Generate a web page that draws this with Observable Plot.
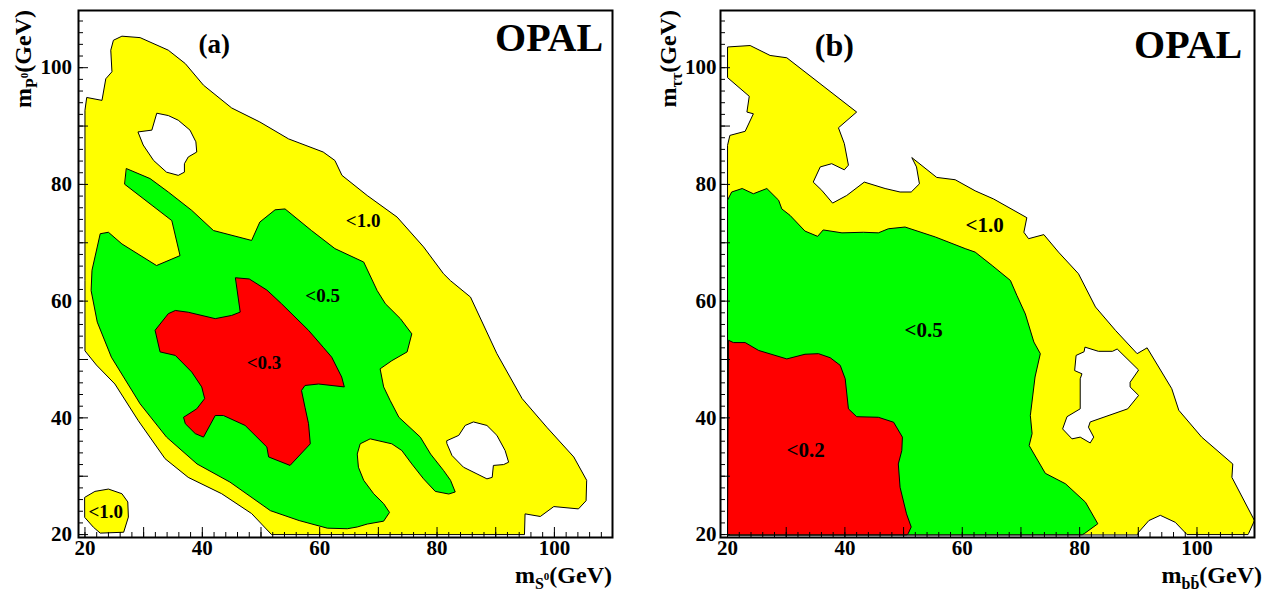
<!DOCTYPE html>
<html><head><meta charset="utf-8">
<script src="https://cdn.jsdelivr.net/npm/d3@7"></script>
<script src="https://cdn.jsdelivr.net/npm/@observablehq/plot@0.6"></script>
<style>
body{margin:0;background:#fff;}
#wrap{position:relative;width:1267px;height:595px;overflow:hidden;background:#fff}
#wrap svg{position:absolute;top:0}
</style></head><body><div id="wrap"></div>
<script>
// ---------- Panel (a): m_S0 vs m_P0 ----------
const aYellow = [[20,51.55],[20,63.5],[20,92.7],[20.3,94.9],[22.9,94.4],[23.55,98.1],[24.6,99.3],[24.4,103.0],[24.85,104.7],[26.3,105.4],[29.4,105.15],[34.2,103.0],[37.1,100.7],[40.2,97.0],[45.0,93.1],[49.8,90.7],[54.7,87.8],[60.6,85.55],[62.6,84.1],[63.8,81.55],[68.1,78.1],[73.2,74.4],[77.7,69.3],[81.1,64.7],[82.3,63.5],[85.7,60.7],[90.2,51.0],[94.5,43.3],[98.7,38.4],[103.3,33.3],[105.5,29.3],[105.4,25.8],[104.1,24.4],[99.9,24.8],[97.6,23.1],[95.0,23.55],[94.9,20],[51.8,20],[48.4,23.6],[43.3,27.0],[37.6,29.8],[33.65,33.0],[29.1,39.5],[25.1,45.8],[22.0,49.0]];
const aIsland = [[20,26.4],[21.7,27.4],[24.0,27.8],[26.3,27.0],[27.3,25.6],[27.4,23.0],[26.6,20.4],[22.6,20.25],[21.45,21.25],[20,22.9]];
const aGreen = [[27.1,82.7],[31.1,81.0],[34.2,78.7],[38.2,75.55],[41.9,72.1],[48.4,70.4],[49.8,73.55],[52.4,75.65],[54.1,75.8],[58.6,72.1],[62.6,69.0],[67.5,66.7],[69.8,61.8],[71.2,59.55],[73.75,57.0],[75.7,54.4],[74.9,51.3],[72.3,49.8],[70.3,48.4],[70.9,45.3],[72.0,43.0],[73.5,40.1],[77.15,36.7],[78.9,33.8],[81.1,31.0],[82.3,29.3],[83.1,27.3],[82.0,26.95],[79.7,27.4],[77.7,29.55],[75.7,32.1],[74.0,34.4],[72.3,35.55],[68.6,36.4],[66.9,35.55],[66.4,33.8],[66.6,31.55],[67.5,29.3],[69.2,27.0],[70.9,25.3],[71.9,23.8],[70.9,22.3],[68.1,21.8],[66.4,21.3],[64.7,21.0],[61.3,21.1],[56.5,22.4],[51.6,24.1],[44.7,29.0],[39.1,32.1],[33.9,36.7],[29.4,42.4],[24.5,50.4],[22.1,56.4],[21.05,61.8],[21.2,65.3],[22.6,71.55],[24.0,71.8],[26.3,69.8],[32.2,66.1],[36.2,67.8],[34.8,73.8],[26.8,80.0]];
const aRed = [[45.7,64.0],[48.0,63.8],[51.0,61.9],[53.5,59.55],[58.1,55.0],[60.6,52.1],[62.05,50.4],[63.75,47.0],[64.2,45.3],[59.8,45.8],[57.5,45.55],[56.9,44.7],[57.5,41.8],[58.1,39.0],[58.4,35.55],[54.95,31.85],[51.3,33.3],[51.0,35.0],[49.0,37.0],[47.3,38.7],[43.6,40.4],[42.2,40.4],[40.2,36.7],[38.8,37.3],[37.1,39.0],[36.8,40.1],[39.05,41.55],[40.4,43.3],[39.9,45.3],[38.2,47.85],[35.4,50.7],[32.8,51.3],[31.95,55.0],[34.2,57.85],[35.4,58.4],[37.6,58.1],[42.2,57.0],[45.0,57.55],[46.4,58.1]];
const aHole1 = [[29.1,89.0],[31.4,89.3],[32.24,92.2],[34.2,91.8],[35.9,91.0],[37.9,89.3],[38.9,87.3],[39.05,85.55],[37.6,84.7],[36.95,83.55],[36.95,82.1],[35.9,81.55],[33.9,82.1],[31.7,84.1],[29.96,86.7]];
const aHole2 = [[81.7,36.1],[83.7,37.0],[84.8,38.7],[86.2,39.3],[88.5,38.7],[90.2,37.0],[91.6,34.4],[92.2,32.4],[91.35,32.0],[89.6,31.85],[89.4,29.8],[88.5,29.55],[86.8,30.4],[84.5,31.55],[82.55,33.55],[81.7,35.55]];
const aLabelX = [67.4, 60.5, 50.5, 23.55];
const aLabelY = [73.7, 60.9, 49.5, 23.8];
const aLabelText = ["<1.0", "<0.5", "<0.3", "<1.0"];

// ---------- Panel (b): m_bb vs m_tautau ----------
const bYellow = [[20,20],[20,86.7],[20.4,88.4],[23.0,89.1],[24.4,92.1],[23.3,92.4],[23.7,95.1],[20.0,98.3],[20.0,103.55],[23.85,103.8],[27.25,102.1],[30.1,101.7],[42.0,92.4],[38.9,89.7],[39.9,87.0],[40.6,83.3],[39.9,82.5],[37.75,83.55],[35.8,83.0],[34.6,80.4],[36.05,79.0],[37.9,76.8],[40.3,78.1],[43.3,80.4],[46.85,79.3],[49.4,78.7],[51.3,78.7],[52.7,80.1],[52.2,83.0],[51.4,84.6],[55.65,81.2],[58.8,80.8],[62.2,78.9],[65.35,77.5],[71.0,74.3],[70.5,71.8],[71.3,70.7],[73.9,71.4],[76.4,68.4],[79.8,64.7],[82.7,59.0],[86.1,55.0],[89.8,51.0],[91.5,52.0],[95.7,45.0],[96.9,41.3],[100.8,36.7],[106.1,32.1],[105.95,29.8],[109.8,22.4],[108.8,20.2],[108.7,20],[98.3,20],[96.3,22.1],[93.75,23.3],[91.8,22.4],[90.05,20.4],[89.9,20]];
const bGreen = [[20,20],[20,77.3],[20.7,78.7],[22.5,79.3],[24.4,78.4],[26.7,79.3],[28.7,77.3],[29.25,75.8],[30.65,74.7],[33.2,72.0],[35.35,71.1],[36.3,72.2],[39.5,71.7],[43.15,71.8],[45.7,71.7],[47.4,72.4],[50.25,72.7],[55.4,71.0],[60.5,69.0],[62.2,68.4],[65.1,66.1],[68.2,63.55],[69.3,61.0],[70.75,57.8],[72.2,53.0],[73.3,51.0],[72.4,47.0],[71.6,40.4],[71.9,37.3],[71.4,35.25],[74.15,30.5],[77.6,28.7],[81.0,25.55],[83.1,21.85],[80.85,20.2],[80.5,20]];
const bRed = [[20,20],[20.15,53.3],[21.0,52.9],[23.0,52.9],[25.3,51.55],[30.1,50.1],[33.2,50.9],[35.5,51.0],[37.5,50.3],[39.2,49.0],[40.05,46.7],[40.6,41.55],[42.0,40.2],[45.7,40.1],[48.3,39.25],[49.8,36.7],[49.7,34.4],[49.1,32.1],[49.4,28.1],[50.5,23.55],[51.3,21.3],[50.8,20.2],[50.6,20]];
const bHole = [[80.97,52.1],[83.2,51.4],[85.6,51.4],[86.4,51.8],[90.05,48.2],[88.6,46.1],[88.6,45.3],[90.05,43.85],[88.2,41.55],[81.8,39.3],[81.5,38.4],[82.4,36.7],[81.8,35.7],[80.1,36.7],[78.7,36.4],[77.1,38.1],[77.85,40.2],[80.1,41.55],[80.1,46.7],[80.4,47.55],[79.15,48.1],[79.4,50.7],[80.7,51.3]];
const bLabelX = [63.8, 53.4, 33.3];
const bLabelY = [73.0, 55.05, 34.4];
const bLabelText = ["<1.0", "<0.5", "<0.2"];

// ---------- Axes ----------
const tickLabels = [20, 40, 60, 80, 100];
const tickLong = [20, 30, 40, 50, 60, 70, 80, 90, 100];
const tickShort = d3.range(20, 109, 2);

const FF = "'Liberation Serif','Times New Roman',serif";
const YEL = "#ffff00", GRN = "#00ff00", RED = "#ff0000";

function poly(points, fill) {
  return Plot.line(points, {x: d => d[0], y: d => d[1], fill, stroke: "black", strokeWidth: 1, curve: "linear-closed"});
}

function makePanel(cfg) {
  const W = cfg.width, H = 595, mt = 10, mb = 58;
  const iw = W - cfg.ml - cfg.mr, ih = H - mt - mb;
  const labels = cfg.lx.map((x, i) => ({x, y: cfg.ly[i], t: cfg.lt[i]}));
  const svg = Plot.plot({
    width: W, height: H, marginLeft: cfg.ml, marginRight: cfg.mr, marginTop: mt, marginBottom: mb,
    x: {domain: cfg.xDomain, axis: null},
    y: {domain: [19.5, 109.8], axis: null},
    style: {fontFamily: FF, background: "transparent", overflow: "visible", color: "black"},
    marks: [
      ...cfg.polys.map(([p, f]) => poly(p, f)),
      Plot.tickX(tickShort, {x: d => d, insetTop: ih - 5, stroke: "black"}),
      Plot.tickX(tickLong, {x: d => d, insetTop: ih - 10, stroke: "black"}),
      Plot.tickY(tickShort, {y: d => d, insetRight: iw - 5, stroke: "black"}),
      Plot.tickY(tickLong, {y: d => d, insetRight: iw - 10, stroke: "black"}),
      Plot.frame({stroke: "black", strokeWidth: 2}),
      Plot.text(tickLabels, {x: d => d, text: d => String(d), frameAnchor: "bottom", dy: 17, fontSize: 21, fontWeight: "bold", fill: "black"}),
      Plot.text(tickLabels, {y: d => d, text: d => String(d), frameAnchor: "left", dx: -cfg.ypad, textAnchor: "end", fontSize: 21, fontWeight: "bold", fill: "black"}),
      Plot.text(labels, {x: "x", y: "y", text: "t", fontSize: cfg.lblSize, fontWeight: "bold", fill: "black"}),
      Plot.text([cfg.tag], {x: cfg.tagX, y: cfg.tagY, text: d => d, fontSize: cfg.tagSize, fontWeight: "bold", fill: "black"}),
      Plot.text(["OPAL"], {x: cfg.opalX, y: cfg.opalY, text: d => d, fontSize: 40, fontWeight: "bold", fill: "black"})
    ]
  });
  svg.style.left = cfg.left + "px";
  const s = d3.select(svg);
  // x title
  const tx = s.append("text").attr("x", cfg.xtX).attr("y", 583).attr("text-anchor", "end")
    .attr("font-size", 24).attr("font-weight", "bold").attr("font-family", FF).attr("fill", "black");
  tx.append("tspan").text("m");
  tx.append("tspan").attr("font-size", 16).attr("dy", 6).text(cfg.xSub);
  if (cfg.xSup) tx.append("tspan").attr("font-size", 11).attr("dy", -9).text(cfg.xSup);
  tx.append("tspan").attr("dy", cfg.xSup ? 3 : -6).text("(GeV)");
  // y title
  const ty = s.append("text").attr("transform", `translate(${cfg.ytX},10) rotate(-90)`).attr("text-anchor", "end")
    .attr("font-size", 24).attr("font-weight", "bold").attr("font-family", FF).attr("fill", "black");
  ty.append("tspan").text("m");
  ty.append("tspan").attr("font-size", 16).attr("dy", 6).text(cfg.ySub);
  if (cfg.ySup) ty.append("tspan").attr("font-size", 11).attr("dy", -9).text(cfg.ySup);
  ty.append("tspan").attr("dy", cfg.ySup ? 3 : -6).text("(GeV)");
  document.getElementById("wrap").appendChild(svg);
}

makePanel({
  left: 0, width: 633, ml: 78, mr: 21, xDomain: [18.9, 109.9], ypad: 6.5,
  polys: [[aYellow, YEL], [aIsland, YEL], [aGreen, GRN], [aRed, RED], [aHole1, "white"], [aHole2, "white"]],
  lx: aLabelX, ly: aLabelY, lt: aLabelText, lblSize: 19,
  tag: "(a)", tagX: 42.05, tagY: 104.0, tagSize: 27, opalX: 99.1, opalY: 105.0,
  xtX: 612, xSub: "S", xSup: "0", ytX: 31, ySub: "P", ySup: "0"
});
makePanel({
  left: 640, width: 627, ml: 80, mr: 13, xDomain: [18.8, 109.8], ypad: 4,
  polys: [[bYellow, YEL], [bGreen, GRN], [bRed, RED], [bHole, "white"]],
  lx: bLabelX, ly: bLabelY, lt: bLabelText, lblSize: 21,
  tag: "(b)", tagX: 38.2, tagY: 103.7, tagSize: 32, opalX: 98.5, opalY: 103.9,
  xtX: 622, xSub: "bb\u0304", xSup: null, ytX: 36, ySub: "\u03C4\u03C4", ySup: null
});
</script>
</body></html>
